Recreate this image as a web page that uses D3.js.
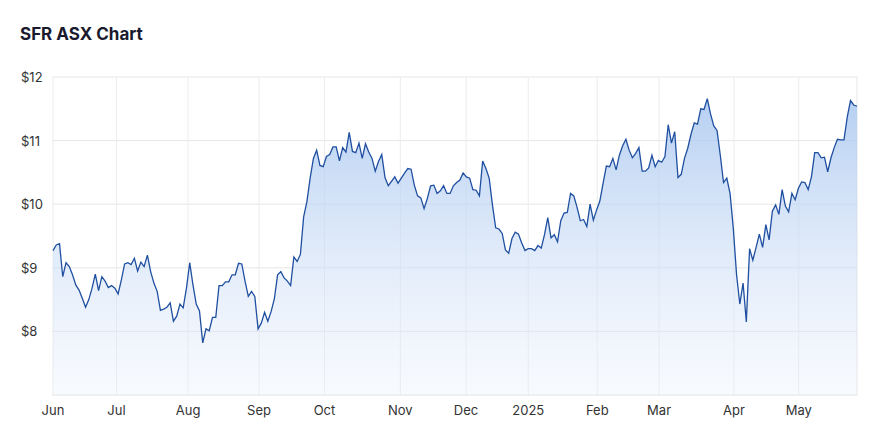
<!DOCTYPE html>
<html><head><meta charset="utf-8">
<script src="https://cdn.jsdelivr.net/npm/d3@7"></script>
<style>body{margin:0;background:#fff;font-family:Inter,"Noto Sans",sans-serif}</style>
</head><body><svg id="c" width="880" height="425"></svg>
<script>
const values = [
9.27,9.36,9.38,8.86,9.08,9.02,8.89,8.73,8.65,8.52,8.38,8.50,8.68,8.90,8.64,8.86,8.79,8.69,8.72,8.68,
8.59,8.81,9.06,9.08,9.05,9.15,8.95,9.09,9.02,9.20,8.94,8.76,8.63,8.33,8.35,8.38,8.45,8.16,8.24,8.43,
8.37,8.68,9.08,8.73,8.43,8.32,7.82,8.04,8.01,8.22,8.22,8.72,8.72,8.78,8.78,8.89,8.89,9.07,9.06,8.79,
8.55,8.63,8.55,8.04,8.13,8.30,8.16,8.31,8.51,8.89,8.94,8.84,8.79,8.72,9.17,9.10,9.21,9.80,10.04,10.41,
10.72,10.85,10.61,10.59,10.75,10.78,10.90,10.90,10.68,10.89,10.82,11.13,10.83,10.81,10.96,10.72,10.95,10.82,10.72,10.52,
10.67,10.78,10.42,10.29,10.36,10.43,10.33,10.41,10.49,10.56,10.55,10.30,10.13,10.10,9.93,10.09,10.29,10.30,10.17,10.21,
10.29,10.17,10.17,10.29,10.34,10.38,10.49,10.43,10.41,10.23,10.22,10.13,10.68,10.56,10.41,9.99,9.63,9.61,9.54,9.28,
9.23,9.46,9.56,9.53,9.39,9.27,9.30,9.30,9.27,9.35,9.31,9.52,9.79,9.47,9.52,9.41,9.74,9.86,9.87,10.17,
10.13,9.95,9.74,9.76,9.65,10.00,9.75,9.91,10.05,10.33,10.60,10.59,10.72,10.54,10.77,10.92,11.02,10.85,10.73,10.80,
10.89,10.52,10.52,10.57,10.77,10.59,10.69,10.66,10.75,11.25,10.96,11.14,10.42,10.47,10.72,10.88,11.10,11.28,11.26,11.50,
11.49,11.66,11.42,11.23,11.16,10.77,10.34,10.41,10.17,9.62,8.89,8.43,8.76,8.15,9.30,9.12,9.32,9.53,9.32,9.68,
9.44,9.89,9.99,9.84,10.23,9.97,9.88,10.17,10.07,10.25,10.35,10.34,10.23,10.43,10.81,10.81,10.73,10.74,10.51,10.73,
10.89,11.02,11.01,11.01,11.37,11.63,11.56,11.54];
const monthLabels = ["Jun","Jul","Aug","Sep","Oct","Nov","Dec","2025","Feb","Mar","Apr","May"];
const monthIndex  = [0,19.5,41.5,63.3,83.4,106.7,126.9,146,167.2,186.2,209.2,229.1];
const yTicks = [8,9,10,11,12];

const svg = d3.select("#c");
const L=52,R=857,T=77,B=395;
const x = d3.scaleLinear().domain([0, values.length-1]).range([L+1,R]);
const y = d3.scaleLinear().domain([7,12]).range([B,T]);

svg.append("text").attr("x",20).attr("y",40).attr("font-size",17).attr("font-weight",700)
  .attr("fill","#1a1a2e").text("SFR ASX Chart");

const defs = svg.append("defs");
const g = defs.append("linearGradient").attr("id","gr").attr("x1",0).attr("x2",0).attr("y1",0).attr("y2",1);
g.append("stop").attr("offset","0%").attr("stop-color","#a9c7f0").attr("stop-opacity",0.85);
g.append("stop").attr("offset","100%").attr("stop-color","#e6eefb").attr("stop-opacity",0.3);

svg.append("g").selectAll("line").data(yTicks).join("line")
  .attr("x1",L).attr("x2",R).attr("y1",d=>y(d)).attr("y2",d=>y(d)).attr("stroke","#e6e6e6");
svg.append("g").selectAll("line").data(monthIndex).join("line")
  .attr("x1",d=>x(d)).attr("x2",d=>x(d)).attr("y1",T).attr("y2",B).attr("stroke","#ececec");
svg.append("line").attr("x1",R).attr("x2",R).attr("y1",T).attr("y2",B).attr("stroke","#e6e6e6");
svg.append("line").attr("x1",L).attr("x2",R).attr("y1",B).attr("y2",B).attr("stroke","#e0e0e0");

const area = d3.area().x((d,i)=>x(i)).y0(B).y1(d=>y(d));
const line = d3.line().x((d,i)=>x(i)).y(d=>y(d));
svg.append("path").datum(values).attr("d",area).attr("fill","url(#gr)");
svg.append("path").datum(values).attr("d",line).attr("fill","none").attr("stroke","#1f4fa0").attr("stroke-width",1.3);

svg.append("g").selectAll("text").data(yTicks).join("text")
  .attr("x",21).attr("y",d=>y(d)+5).attr("font-size",13).attr("fill","#333").text(d=>"$"+d);
svg.append("g").selectAll("text").data(monthIndex).join("text")
  .attr("x",d=>x(d)).attr("y",415).attr("text-anchor","middle").attr("font-size",13).attr("fill","#333")
  .text((d,i)=>monthLabels[i]);
</script></body></html>
